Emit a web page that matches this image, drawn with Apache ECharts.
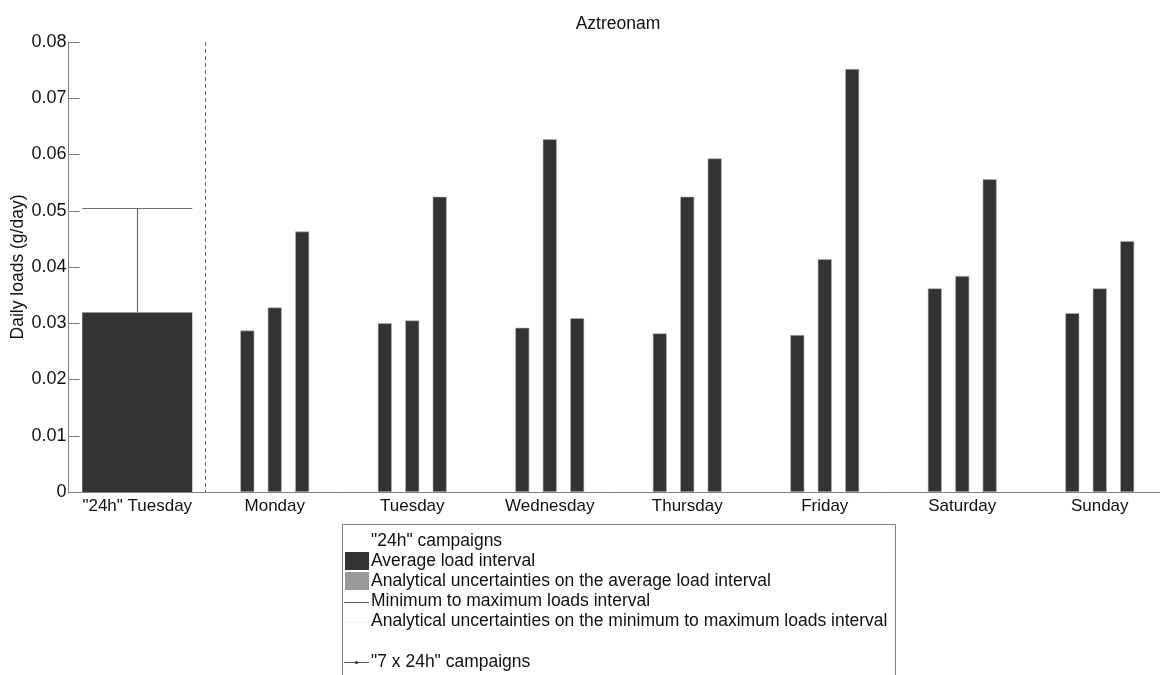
<!DOCTYPE html>
<html>
<head>
<meta charset="utf-8">
<script src="https://cdn.jsdelivr.net/npm/echarts@6/dist/echarts.min.js"></script>
<style>
  html, body { margin: 0; padding: 0; background: #fff; }
  #chart { width: 1160px; height: 675px; }
</style>
</head>
<body>
<div id="chart"></div>
<script>
const categories = ['"24h" Tuesday', 'Monday', 'Tuesday', 'Wednesday', 'Thursday', 'Friday', 'Saturday', 'Sunday']
const yTicks = [0, 0.01, 0.02, 0.03, 0.04, 0.05, 0.06, 0.07, 0.08]

// "24h" campaign: average load and max of the min-to-max interval
const avg24h = [0.0319]
const max24h = [0.0505]

// "7 x 24h" campaigns, three bars per weekday
const week1 = [0.0287, 0.0300, 0.0292, 0.0282, 0.0279, 0.0362, 0.0318]
const week2 = [0.0328, 0.0305, 0.0627, 0.0525, 0.0414, 0.0384, 0.0362]
const week3 = [0.0463, 0.0525, 0.0309, 0.0593, 0.0752, 0.0556, 0.0446]

const font = "'Liberation Sans', Arial, sans-serif"
const barColor = '#333333'
const axisColor = '#808080'

const chart = echarts.init(document.getElementById('chart'), null, { renderer: 'canvas' })

const weekSeries = [week1, week2, week3].map((vals, i) => ({
  name: '7 x 24h #' + (i + 1),
  type: 'bar',
  xAxisIndex: 0,
  data: [null].concat(vals),
  barWidth: 14,
  barGap: '96%',
  itemStyle: { color: barColor, borderColor: '#b5b5b5', borderWidth: 0.6 },
  silent: true,
}))

const legendRows = [
  { y: 541.5, text: '"24h" campaigns' },
  { y: 561, text: 'Average load interval', box: '#333333' },
  { y: 581, text: 'Analytical uncertainties on the average load interval', box: '#999999' },
  { y: 601.5, text: 'Minimum to maximum loads interval', line: '#555555' },
  { y: 621.5, text: 'Analytical uncertainties on the minimum to maximum loads interval', line: '#d0d0d0', dotted: true },
  { y: 662, text: '"7 x 24h" campaigns', line: '#555555', dot: true },
]

const legendElements = [{
  type: 'rect',
  shape: { x: 342.5, y: 524.5, width: 553, height: 200 },
  style: { fill: '#fff', stroke: axisColor, lineWidth: 1 },
}, {
  type: 'text',
  x: 618, y: 24.5,
  style: { text: 'Aztreonam', font: '17.5px ' + font, fill: '#111', align: 'center', verticalAlign: 'middle' },
}]
legendRows.forEach((row) => {
  legendElements.push({
    type: 'text',
    x: 371, y: row.y,
    style: { text: row.text, font: '17.5px ' + font, fill: '#111', verticalAlign: 'middle', align: 'left' },
  })
  if (row.box) {
    legendElements.push({
      type: 'rect',
      shape: { x: 345, y: row.y - 9, width: 24, height: 18 },
      style: { fill: row.box },
    })
  }
  if (row.line) {
    const ly = Math.round(row.y) + 0.5
    legendElements.push({
      type: 'line',
      shape: { x1: 344, y1: ly, x2: 369, y2: ly },
      style: { stroke: row.line, lineWidth: 1, lineDash: row.dotted ? [1, 2] : null },
    })
  }
  if (row.dot) {
    legendElements.push({
      type: 'circle',
      shape: { cx: 356.5, cy: Math.round(row.y) + 0.5, r: 1.6 },
      style: { fill: '#333' },
    })
  }
})

const option = {
  backgroundColor: '#fff',
  animation: false,
  grid: { left: 68.5, top: 42, width: 1100, height: 450, outerBoundsMode: 'none', containLabel: false },
  xAxis: [
    {
      type: 'category',
      data: categories,
      axisLine: { lineStyle: { color: axisColor, width: 1 } },
      axisTick: { show: false },
      axisLabel: { color: '#111', fontFamily: font, fontSize: 17, margin: 6, interval: 0 },
    },
    {
      type: 'category',
      data: categories,
      position: 'bottom',
      show: false,
    },
  ],
  yAxis: {
    type: 'value',
    min: yTicks[0],
    max: yTicks[yTicks.length - 1],
    interval: 0.01,
    name: 'Daily loads (g/day)',
    nameLocation: 'middle',
    nameGap: 41,
    nameMoveOverlap: false,
    nameTextStyle: { fontFamily: font, fontSize: 17.5, color: '#111' },
    axisLine: { show: true, lineStyle: { color: axisColor, width: 1 } },
    axisTick: { show: true, inside: true, length: 11, lineStyle: { color: axisColor } },
    axisLabel: { color: '#111', fontFamily: font, fontSize: 18, margin: 2,
      formatter: (v) => String(+v.toFixed(2)) },
    splitLine: { show: false },
  },
  series: [
    {
      name: 'Average load interval',
      type: 'bar',
      xAxisIndex: 1,
      data: avg24h.concat(week1.map(() => null)),
      barWidth: '80%',
      itemStyle: { color: barColor },
      silent: true,
    },
    ...weekSeries,
    {
      name: 'Minimum to maximum loads interval',
      type: 'custom',
      xAxisIndex: 1,
      data: avg24h.map((v, i) => [i, v, max24h[i]]),
      renderItem: (params, api) => {
        const low = api.coord([api.value(0), api.value(1)])
        const high = api.coord([api.value(0), api.value(2)])
        const half = api.size([1, 0])[0] * 0.4
        const x = Math.round(low[0]) + 0.5
        const yTop = Math.round(high[1]) + 0.5
        return {
          type: 'group',
          children: [
            { type: 'line', shape: { x1: x, y1: low[1], x2: x, y2: yTop }, style: { stroke: '#6e6e6e', lineWidth: 1.2 } },
            { type: 'line', shape: { x1: low[0] - half, y1: yTop, x2: low[0] + half, y2: yTop }, style: { stroke: '#6e6e6e', lineWidth: 1.2 } },
          ],
        }
      },
      z: 3,
      silent: true,
    },
    {
      name: 'divider',
      type: 'custom',
      xAxisIndex: 1,
      data: [[0, yTicks[0], yTicks[yTicks.length - 1]]],
      renderItem: (params, api) => {
        const bottom = api.coord([api.value(0), api.value(1)])
        const top = api.coord([api.value(0), api.value(2)])
        const x = Math.round(bottom[0] + api.size([1, 0])[0] / 2) - 0.5
        return {
          type: 'line',
          shape: { x1: x, y1: top[1], x2: x, y2: bottom[1] },
          style: { stroke: '#666', lineWidth: 1, lineDash: [4, 3] },
        }
      },
      silent: true,
    },
  ],
  graphic: legendElements,
}

chart.setOption(option)
</script>
</body>
</html>
